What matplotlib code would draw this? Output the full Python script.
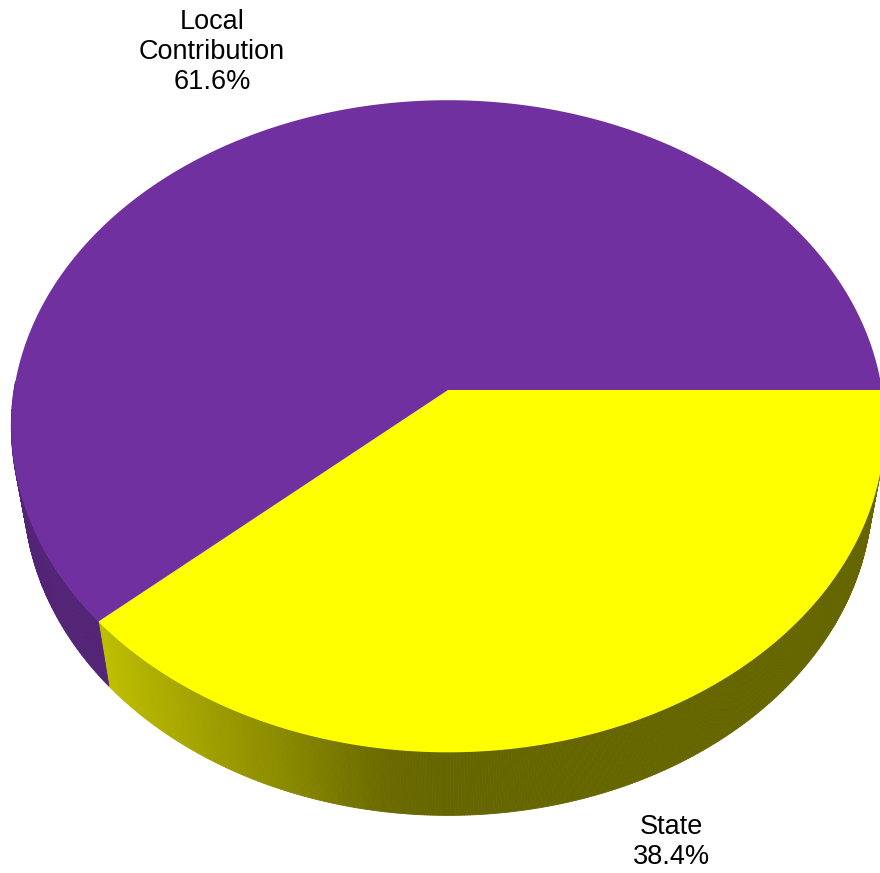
import numpy as np
import matplotlib.pyplot as plt
from matplotlib.colors import to_rgb

# Datos del gráfico
labels = ['State', 'Local\nContribution']
shares = [38.4, 61.6]
top_colors = ['#FFFF00', '#7030A0']

# Cámara en perspectiva (vista inclinada desde arriba)
elev = np.radians(47.9)
dist = 6.03
focal = 434 * dist
cx, cy = 448, 390
depth = 0.235


def project(x, y, z):
    c, s = np.cos(elev), np.sin(elev)
    d = dist + y * c - z * s
    return cx + focal * x / d, cy - focal * (y * s + z * c) / d


def yellow_shade(t):
    # más claro a la izquierda, más oscuro hacia el frente
    deg = np.degrees(t)
    return np.interp(deg, [-140, -125, -110, -98, -90], [0.76, 0.66, 0.54, 0.42, 0.40])


fig = plt.figure(figsize=(8.8, 8.73), dpi=100)
ax = fig.add_axes([0, 0, 1, 1])
ax.set_xlim(0, 880)
ax.set_ylim(873, 0)
ax.set_aspect('equal')
ax.axis('off')

# ángulos de cada porción (sentido horario desde las 3 en punto)
edges = np.concatenate([[0], -np.cumsum(shares) / 100 * 2 * np.pi])

# 1) paredes laterales (solo la mitad frontal)
for i, col in enumerate(top_colors):
    a0, a1 = edges[i], edges[i + 1]
    ts = np.linspace(a0, a1, 400)
    base = np.array(to_rgb(col))
    for t0, t1 in zip(ts[:-1], ts[1:]):
        if np.sin(t0) > 0.02 and np.sin(t1) > 0.02:
            continue
        xs = np.array([np.cos(t0), np.cos(t1), np.cos(t1), np.cos(t0)])
        ys = np.array([np.sin(t0), np.sin(t1), np.sin(t1), np.sin(t0)])
        zs = np.array([0, 0, -depth, -depth])
        px, py = project(xs, ys, zs)
        if i == 0:
            f = yellow_shade(0.5 * (t0 + t1))
        else:
            f = 0.74
        ax.fill(px, py, color=base * f, lw=0.6, ec=base * f, zorder=1)

# 2) cara superior de cada porción
for i, col in enumerate(top_colors):
    ts = np.linspace(edges[i], edges[i + 1], 300)
    xs = np.concatenate([[0], np.cos(ts)])
    ys = np.concatenate([[0], np.sin(ts)])
    px, py = project(xs, ys, np.zeros_like(xs))
    ax.fill(px, py, color=col, lw=0, zorder=2)

# 3) etiquetas
ax.text(212, 52, f'{labels[1]}\n{shares[1]}%', ha='center', va='center',
        fontsize=19.5, family='Liberation Sans', linespacing=1.2)
ax.text(671, 842, f'{labels[0]}\n{shares[0]}%', ha='center', va='center',
        fontsize=19.5, family='Liberation Sans', linespacing=1.2)

fig.savefig('out.png', dpi=100)
